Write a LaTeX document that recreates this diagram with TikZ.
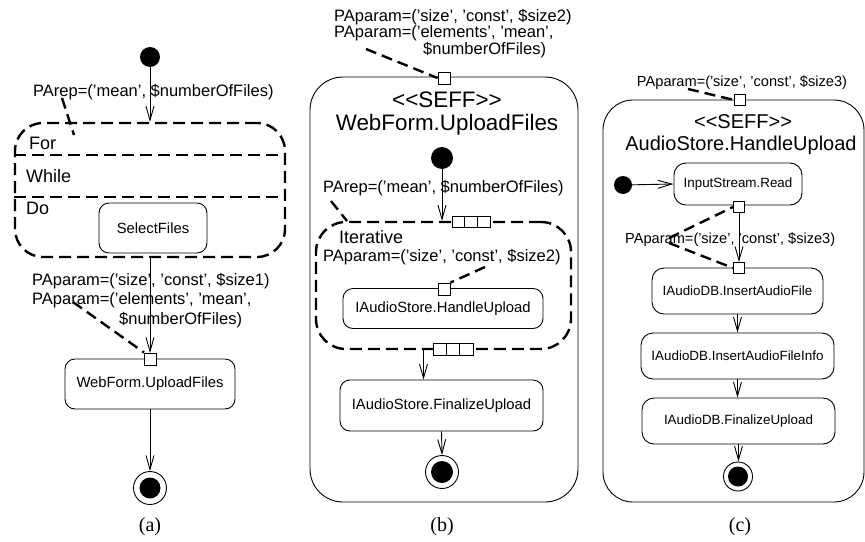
\documentclass[tikz,border=0pt]{standalone}
\usepackage{fontspec}
\setmainfont{Liberation Sans}
\newfontfamily\capfont{Liberation Serif}
\usetikzlibrary{arrows.meta}
\newcommand\fsz[1]{\fontsize{#1}{#1}\selectfont}
\begin{document}
\begin{tikzpicture}[x=1pt,y=-1pt,
  act/.style={draw, line width=0.9pt, rounded corners=10pt, inner sep=0pt, font=\fsz{14.8}},
  actc/.style={act, rounded corners=12pt, font=\fsz{13.4}},
  pinbox/.style={draw, fill=white, line width=0.9pt, minimum size=#1, inner sep=0pt},
  pinbox/.default=12pt,
  qcell/.style={draw, fill=white, line width=0.9pt, minimum width=#1, minimum height=11pt, inner sep=0pt},
  qcell/.default=12.7pt,
  arr/.style={line width=0.9pt, -{Straight Barb[length=14pt,width=8pt]}},
  lead/.style={line width=2.4pt, dash pattern=on 11pt off 6pt},
  loopbox/.style={draw, line width=2.4pt, dash pattern=on 12pt off 6pt, inner sep=0pt},
  seffbox/.style={draw, line width=0.9pt, inner sep=0pt},
  initdot/.style={circle, fill=black, inner sep=0pt, minimum size=#1},
  initdot/.default=20pt,
  finalring/.style={circle, draw, fill=white, line width=0.9pt, inner sep=0pt, minimum size=#1},
  finalring/.default=33pt,
  lbl/.style={anchor=west, inner sep=0pt, font=\fsz{16.5}},
  lblc/.style={anchor=west, inner sep=0pt, font=\fsz{14.6}},
  sect/.style={anchor=west, inner sep=0pt, font=\fsz{18}},
  captext/.style={inner sep=0pt, font=\capfont\fsz{20}}
]
\useasboundingbox (0,0) rectangle (865,541);

% ================= (a) =================
\node[initdot] (ia) at (150,57) {};
\node[loopbox, rounded corners=28pt, minimum width=270pt, minimum height=134pt] (forbox) at (150,190) {};
\draw[line width=2.4pt, dash pattern=on 12pt off 6pt] ([yshift=35pt]forbox.west) -- ([yshift=35pt]forbox.east);
\draw[line width=2.4pt, dash pattern=on 12pt off 6pt] ([yshift=-7pt]forbox.west) -- ([yshift=-7pt]forbox.east);
\node[sect] (tfor) at (29,143) {For};
\node[sect] (twhile) at (26,176) {While};
\node[sect] (tdo) at (26,208) {Do};
\node[act, minimum width=108pt, minimum height=50pt] (sel) at (153,228) {SelectFiles};
\node[lbl] (lrepa) at (33,92) {PArep=(’mean’, \$numberOfFiles)};
\coordinate (lrepaend) at (62,98);
\draw[lead] (lrepaend) -- (74,135);
\draw[arr] (ia) -- (forbox.north);

\node[act, minimum width=170pt, minimum height=50pt] (wa) at (150,384) {WebForm.UploadFiles};
\node[lbl] (lpa1) at (32,281) {PAparam=(’size’, ’const’, \$size1)};
\node[lbl] (lpa2) at (32,300) {PAparam=(’elements’, ’mean’,};
\node[lbl] (lpa3) at (119,320) {\$numberOfFiles)};
\draw[arr] (forbox.south) -- (150,353);
\coordinate (lpaend) at (73,302);
\node[pinbox] (pa) at (150.5,359) {};
\draw[lead] (lpaend) -- (pa.north west);
\node[finalring] (fa) at (150,488) {};
\node[initdot=21pt] (fai) at (fa) {};
\draw[arr] (wa.south) -- (fa.north);
\node[captext] (capa) at (150,527) {(a)};

% ================= (b) =================
\node[seffbox, rounded corners=33pt, minimum width=268pt, minimum height=425pt] (seffb) at (444,289.5) {};
\node[font=\fsz{22.4}, inner sep=0pt] (seffbk) at (447,100) {<\kern0pt<SEFF>\kern0pt>};
\node[font=\fsz{22.4}, inner sep=0pt] (seffbn) at (447,125) {WebForm.UploadFiles};
\node[lbl] (lpb1) at (334,17) {PAparam=(’size’, ’const’, \$size2)};
\node[lbl] (lpb2) at (334,33) {PAparam=(’elements’, ’mean’,};
\node[lbl] (lpb3) at (423,50) {\$numberOfFiles)};
\coordinate (lpbend) at (366,49);
\node[pinbox] (pb) at (444,78) {};
\draw[lead] (lpbend) -- (pb.west);

\node[initdot=22pt] (ib) at (442,158) {};
\node[lbl] (lrepb) at (323,188) {PArep=(’mean’, \$numberOfFiles)};
\node[loopbox, rounded corners=30pt, minimum width=255pt, minimum height=127pt] (itb) at (443.5,285.5) {};
\coordinate (lrepbend) at (331,201);
\draw[lead] (lrepbend) -- (347,221);
\draw[arr] (ib) -- (ib |- itb.north);
\node[qcell] (qa1) at (458.3,222) {};
\node[qcell] (qa2) at (471,222) {};
\node[qcell] (qa3) at (483.7,222) {};
\node[sect] (titer) at (339,237) {Iterative};
\node[lbl] (lpb4) at (323,257) {PAparam=(’size’, ’const’, \$size2)};
\node[act, minimum width=200pt, minimum height=40pt] (hb) at (443,308.5) {IAudioStore.HandleUpload};
\node[pinbox] (hbp) at (444,289) {};
\coordinate (lpb4end) at (485,267);
\draw[lead] (lpb4end) -- (hbp.north east);
\node[qcell=13.3pt, minimum height=12pt] (qb1) at (439.7,349.5) {};
\node[qcell=13.3pt, minimum height=12pt] (qb2) at (453,349.5) {};
\node[qcell=13.3pt, minimum height=12pt] (qb3) at (466.3,349.5) {};
\node[act, minimum width=203pt, minimum height=51pt] (fub) at (441.5,405.5) {IAudioStore.FinalizeUpload};
\draw[arr] ([xshift=-20pt]itb.south) -- ([xshift=-20pt]itb.south |- fub.north);
\node[finalring] (fb) at (442,472) {};
\node[initdot=22pt] (fbi) at (fb) {};
\draw[arr] (fub.south) -- (fb.north);
\node[captext] (capb) at (442,527) {(b)};

% ================= (c) =================
\node[seffbox, rounded corners=30pt, minimum width=261pt, minimum height=402pt] (seffc) at (733.5,301) {};
\node[font=\fsz{20}, inner sep=0pt] (seffck) at (743,122) {<\kern0pt<SEFF>\kern0pt>};
\node[font=\fsz{20}, inner sep=0pt] (seffcn) at (741,145) {AudioStore.HandleUpload};
\node[lblc, anchor=center] (lpc1) at (742,83) {PAparam=(’size’, ’const’, \$size3)};
\node[pinbox=11pt] (pc) at (740,100) {};
\coordinate (lpc1end) at (688,89);
\draw[lead] (lpc1end) -- (pc.west);

\node[initdot=18pt] (ic) at (623,185) {};
\node[actc, minimum width=128pt, minimum height=42pt] (isr) at (738,184) {InputStream.Read};
\draw[arr] (ic) -- (isr.west);
\node[actc, minimum width=171pt, minimum height=46pt] (iaf) at (737.5,291) {IAudioDB.InsertAudioFile};
\node[pinbox=11pt] (pc1) at (739,207) {};
\node[pinbox=11pt] (pc2) at (739,268) {};
\draw[arr] (pc1.south) -- (pc2.north);
\node[lblc] (lpc2) at (625,240) {PAparam=(’size’, ’const’, \$size3)};
\coordinate (lpc2a) at (669,238);
\coordinate (lpc2b) at (669,243);
\draw[lead] (lpc2a) -- (pc1.west);
\draw[lead] (lpc2b) -- (pc2.west);
\node[actc, minimum width=193pt, minimum height=46pt] (iafi) at (737.5,356) {IAudioDB.InsertAudioFileInfo};
\node[actc, minimum width=193pt, minimum height=46pt] (afu) at (738.5,421) {IAudioDB.FinalizeUpload};
\draw[arr] (iaf.south) -- (iaf.south |- iafi.north);
\draw[arr] (iafi.south) -- (iafi.south |- afu.north);
\node[finalring=29pt] (fc) at (738,476.5) {};
\node[initdot=20pt] (fci) at (fc) {};
\draw[arr] (afu.south) -- (afu.south |- fc.north);
\node[captext] (capc) at (740,527) {(c)};
\end{tikzpicture}
\end{document}
